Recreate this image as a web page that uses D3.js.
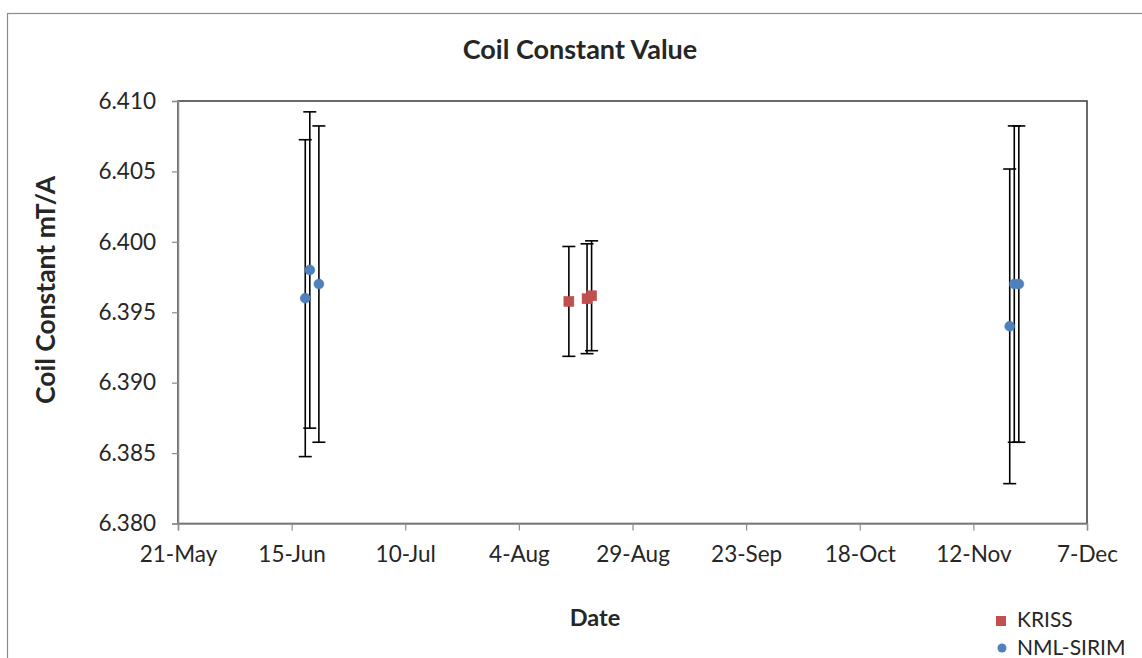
<!DOCTYPE html>
<html><head><meta charset="utf-8">
<script src="https://cdn.jsdelivr.net/npm/d3@7"></script>
<style>
html,body{margin:0;padding:0;background:#fff;}
text{font-family:Lato,"Open Sans",sans-serif;fill:#262626;}
</style></head>
<body>
<svg id="chart" width="1142" height="658"></svg>
<script>
// ---- data ----
const title = "Coil Constant Value";
const xTitle = "Date";
const yTitle = "Coil Constant mT/A";
const seriesNames = ["KRISS", "NML-SIRIM"];
const krissDates = ["2013-08-15", "2013-08-19", "2013-08-20"];
const krissValues = [6.39577, 6.39596, 6.39617];
const krissErrors = [0.0039, 0.0039, 0.0039];
const nmlDates = ["2013-06-18", "2013-06-19", "2013-06-21", "2013-11-20", "2013-11-21", "2013-11-22"];
const nmlValues = [6.3960, 6.3980, 6.3970, 6.3940, 6.3970, 6.3970];
const nmlErrors = [0.01125, 0.01123, 0.01123, 0.01117, 0.01123, 0.01123];
const xTickDates = ["2013-05-21", "2013-06-15", "2013-07-10", "2013-08-04", "2013-08-29", "2013-09-23", "2013-10-18", "2013-11-12", "2013-12-07"];
const yTicks = [6.380, 6.385, 6.390, 6.395, 6.400, 6.405, 6.410];

const parse = d3.utcParse("%Y-%m-%d");
const svg = d3.select("#chart");

const pLeft = 178, pRight = 1087, pTop = 101, pBottom = 523.5;
const x = d3.scaleUtc().domain([parse(xTickDates[0]), parse(xTickDates[xTickDates.length-1])]).range([pLeft, pRight]);
const y = d3.scaleLinear().domain([yTicks[0], yTicks[yTicks.length-1]]).range([pBottom, pTop]);

// outer chart frame
svg.append("rect").attr("x", 7.5).attr("y", 13.5).attr("width", 1300).attr("height", 800)
  .attr("fill", "#fff").attr("stroke", "#8c8c8c").attr("stroke-width", 1.2);

// plot area border
svg.append("rect").attr("x", pLeft).attr("y", pTop).attr("width", pRight-pLeft).attr("height", pBottom-pTop)
  .attr("fill", "none").attr("stroke", "#3a3a3a").attr("stroke-width", 1.5);

// axes
const xAxis = d3.axisBottom(x).tickValues(xTickDates.map(parse)).tickFormat(d3.utcFormat("%-d-%b")).tickSizeOuter(0).tickSize(7).tickPadding(12);
const gx = svg.append("g").attr("transform", `translate(0,${pBottom})`).call(xAxis);
const yAxis = d3.axisLeft(y).tickValues(yTicks).tickFormat(d3.format(".3f")).tickSizeOuter(0).tickSize(6).tickPadding(16);
const gy = svg.append("g").attr("transform", `translate(${pLeft},0)`).call(yAxis);
[gx, gy].forEach(g => {
  g.select(".domain").attr("stroke", "#8c8c8c").attr("stroke-width", 1.5);
  g.selectAll(".tick line").attr("stroke", "#8c8c8c").attr("stroke-width", 1.2);
  g.selectAll(".tick text").attr("font-size", 22.5).attr("font-family", "Lato").attr("fill", "#333");
});
gx.selectAll(".tick text").attr("dy", "0.85em");

// titles
svg.append("text").attr("x", 580).attr("y", 59).attr("text-anchor", "middle")
  .attr("font-size", 27).attr("font-weight", "bold").attr("fill", "#111").text(title);
svg.append("text").attr("x", 595).attr("y", 626).attr("text-anchor", "middle")
  .attr("font-size", 23.5).attr("font-weight", "bold").attr("fill", "#111").text(xTitle);
svg.append("text").attr("transform", "translate(55,290) rotate(-90)").attr("text-anchor", "middle")
  .attr("font-size", 26.5).attr("font-weight", "bold").attr("fill", "#111").text(yTitle);

// data
const kriss = krissDates.map((d, i) => ({date: parse(d), v: krissValues[i], e: krissErrors[i]}));
const nml = nmlDates.map((d, i) => ({date: parse(d), v: nmlValues[i], e: nmlErrors[i]}));
const cap = 6.5;

function errorBars(data) {
  const g = svg.append("g").attr("stroke", "#000").attr("stroke-width", 1.6).attr("fill", "none");
  data.forEach(d => {
    const cx = x(d.date), y1 = y(d.v + d.e), y2 = y(d.v - d.e);
    g.append("line").attr("x1", cx).attr("x2", cx).attr("y1", y1).attr("y2", y2);
    g.append("line").attr("x1", cx-cap).attr("x2", cx+cap).attr("y1", y1).attr("y2", y1);
    g.append("line").attr("x1", cx-cap).attr("x2", cx+cap).attr("y1", y2).attr("y2", y2);
  });
}
errorBars(kriss);
errorBars(nml);

const red = "#C0504D", blue = "#4F81BD";
svg.append("g").selectAll("rect").data(kriss).join("rect")
  .attr("x", d => x(d.date) - 5).attr("y", d => y(d.v) - 5).attr("width", 10).attr("height", 10)
  .attr("fill", red).attr("stroke", "#b84a47").attr("stroke-width", 0.5);
svg.append("g").selectAll("circle").data(nml).join("circle")
  .attr("cx", d => x(d.date)).attr("cy", d => y(d.v)).attr("r", 5)
  .attr("fill", blue).attr("stroke", "#4a7ab3").attr("stroke-width", 0.5);

// legend
const lg = svg.append("g");
lg.append("rect").attr("x", 996).attr("y", 616).attr("width", 10).attr("height", 10).attr("fill", red);
lg.append("text").attr("x", 1017).attr("y", 627).attr("font-size", 21).attr("fill", "#333").text(seriesNames[0]);
lg.append("circle").attr("cx", 1002).attr("cy", 648).attr("r", 4.5).attr("fill", blue);
lg.append("text").attr("x", 1017).attr("y", 655).attr("font-size", 21).attr("fill", "#333").text(seriesNames[1]);
</script>
</body></html>
